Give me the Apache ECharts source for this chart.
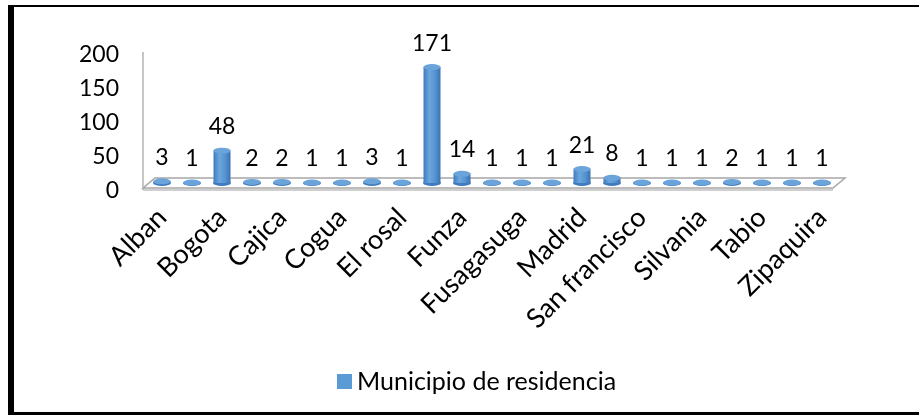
<!DOCTYPE html>
<html>
<head>
<meta charset="utf-8">
<title>Municipio de residencia</title>
<script src="https://cdn.jsdelivr.net/npm/echarts@6/dist/echarts.min.js"></script>
<style>
	html, body { margin: 0; padding: 0; background: #fff; overflow: hidden; }
	#chart { position: absolute; left: 0; top: 0; width: 919px; height: 415px; }
	#frame {
		position: absolute; left: 8px; top: 5px; width: 960px; height: 405px;
		border-left: 6px solid #000; border-top: 2px solid #000; border-bottom: 3px solid #000;
		pointer-events: none;
	}
</style>
</head>
<body>
<div id="chart"></div>
<div id="frame"></div>
<script>
	/*
	Data
	*/
	var municipios = ['Alban', 'Anolaima', 'Bogota', 'Bojaca', 'Cajica', 'Chia', 'Cogua', 'Cota',
		'El rosal', 'Facatativa', 'Funza', 'Fuquene', 'Fusagasuga', 'La vega', 'Madrid', 'Mosquera',
		'San francisco', 'Sasaima', 'Silvania', 'Subachoque', 'Tabio', 'Villeta', 'Zipaquira'];
	var residentes = [3, 1, 48, 2, 2, 1, 1, 3, 1, 171, 14, 1, 1, 1, 21, 8, 1, 1, 1, 2, 1, 1, 1];
	var yTicks = [0, 50, 100, 150, 200];
	var serieNombre = 'Municipio de residencia';

	var fuente = 'Lato, "Open Sans", sans-serif';
	var azul = '#5B9BD5';
	var tam = 23;

	var chart = echarts.init(document.getElementById('chart'), null, { renderer: 'canvas' });

	var option = {
		animation: false,
		backgroundColor: '#fff',
		textStyle: { fontFamily: fuente },
		grid: { left: 147, right: 82, top: 47, bottom: 232 },
		legend: {
			left: 332,
			top: 364,
			icon: 'rect',
			itemWidth: 15,
			itemHeight: 15,
			textStyle: { fontSize: 25, color: '#000', fontFamily: fuente },
			data: [{ name: serieNombre, itemStyle: { color: azul } }]
		},
		xAxis: {
			type: 'category',
			data: municipios,
			axisLine: { show: false },
			axisTick: { show: false },
			axisLabel: {
				interval: 1,
				rotate: 45,
				margin: 30,
				fontSize: 27,
				color: '#000',
				fontFamily: fuente
			}
		},
		yAxis: {
			type: 'value',
			min: yTicks[0],
			max: yTicks[yTicks.length - 1],
			interval: yTicks[1] - yTicks[0],
			axisLine: { show: false },
			axisTick: { show: false },
			splitLine: { show: false },
			axisLabel: {
				margin: 28,
				fontSize: tam,
				color: '#000',
				fontFamily: fuente,
				verticalAlign: 'top',
				lineHeight: 16
			}
		},
		series: [
			{
				// cuerpo del cilindro
				name: serieNombre,
				type: 'bar',
				data: residentes,
				barWidth: 17,
				z: 3,
				itemStyle: {
					color: new echarts.graphic.LinearGradient(0, 0, 1, 0, [
						{ offset: 0, color: '#3F7BBE' },
						{ offset: 0.35, color: '#6BA6DD' },
						{ offset: 0.7, color: '#5592D0' },
						{ offset: 1, color: '#3A72B2' }
					])
				},
				label: {
					show: true,
					position: 'top',
					distance: 12,
					fontSize: tam,
					color: '#000',
					fontFamily: fuente
				}
			},
			{
				// base
				type: 'pictorialBar',
				data: residentes,
				symbol: 'circle',
				symbolSize: [18, 6],
				symbolPosition: 'start',
				symbolOffset: [0, '50%'],
				z: 2,
				itemStyle: { color: '#3F7BBE' }
			},
			{
				// tapa
				type: 'pictorialBar',
				data: residentes,
				symbol: 'circle',
				symbolSize: [17, 6],
				symbolPosition: 'end',
				symbolOffset: [0, '-50%'],
				z: 4,
				itemStyle: { color: '#6AA4DA', borderColor: '#4A86C5', borderWidth: 1 }
			}
		]
	};

	chart.setOption(option);

	/*
	Piso y pared (efecto 3D)
	*/
	var x0 = chart.convertToPixel({ xAxisIndex: 0 }, 0);
	var xN = chart.convertToPixel({ xAxisIndex: 0 }, municipios.length - 1);
	var banda = (xN - x0) / (municipios.length - 1);
	var y0 = chart.convertToPixel({ yAxisIndex: 0 }, yTicks[0]);
	var yTop = chart.convertToPixel({ yAxisIndex: 0 }, yTicks[yTicks.length - 1]);
	var izq = x0 - banda / 2 - 4;
	var der = xN + banda / 2 - 4;

	chart.setOption({
		graphic: [
			{
				type: 'polygon',
				z: 1,
				shape: { points: [[izq, y0 + 5], [der, y0 + 5], [der + 12, y0 - 5], [izq + 12, y0 - 5]] },
				style: { fill: '#fff', stroke: '#a6a6a6', lineWidth: 1.5 }
			},
			{
				type: 'line',
				z: 1,
				shape: { x1: izq, y1: y0 + 7, x2: der, y2: y0 + 7 },
				style: { stroke: '#bfbfbf', lineWidth: 1.5 }
			},
			{
				type: 'line',
				z: 1,
				shape: { x1: izq, y1: yTop + 5, x2: izq, y2: y0 + 7 },
				style: { stroke: '#b3b3b3', lineWidth: 1.5 }
			}
		]
	});
</script>
</body>
</html>
